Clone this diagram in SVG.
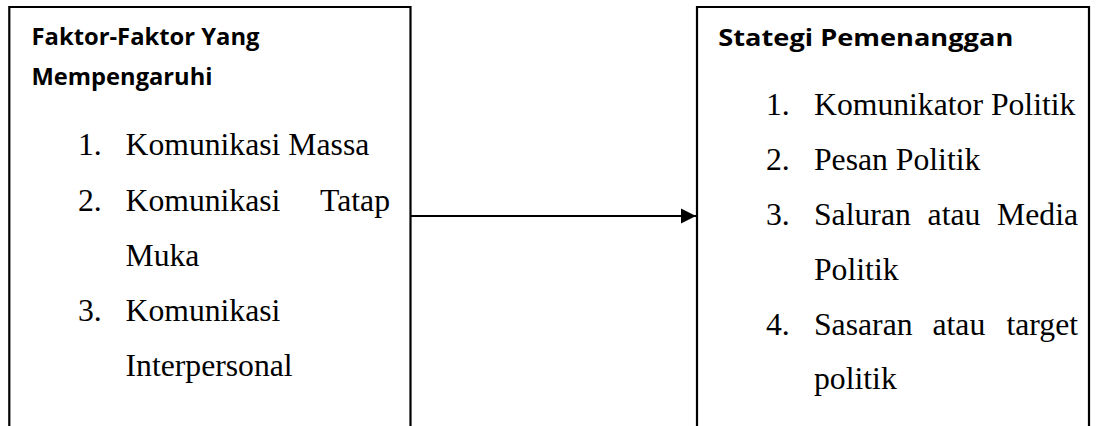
<svg xmlns="http://www.w3.org/2000/svg" width="1097" height="426" viewBox="0 0 1097 426">
<defs>
<style>
.box{fill:none;stroke:#000;stroke-width:2.2}
.h{font-family:"Open Sans","Noto Sans","Liberation Sans",sans-serif;font-weight:bold;font-size:23.5px;fill:#000}
.t{font-family:"Liberation Serif","Times New Roman",serif;font-size:31.7px;fill:#000}
.conn{stroke:#000;stroke-width:2.2;fill:none}
</style>
<marker id="arr" markerWidth="16" markerHeight="16" refX="15" refY="7.5" orient="auto" markerUnits="userSpaceOnUse" viewBox="0 0 16 15">
<path d="M0,0 L15,7.5 L0,15 Z" fill="#000"/>
</marker>
</defs>
<rect width="1097" height="426" fill="#fff"/>
<g id="node-faktor">
<path class="box" d="M9.3,440 V7 H410.5 V440"/>
<text class="h" x="31.5" y="45" textLength="228" lengthAdjust="spacingAndGlyphs">Faktor-Faktor Yang</text>
<text class="h" x="31.5" y="84.5" textLength="181" lengthAdjust="spacingAndGlyphs">Mempengaruhi</text>
<text class="t" x="78" y="155">1.</text>
<text class="t" x="125.5" y="155">Komunikasi Massa</text>
<text class="t" x="78" y="210.5">2.</text>
<text class="t" x="125.5" y="210.5">Komunikasi</text>
<text class="t" x="390" y="210.5" text-anchor="end">Tatap</text>
<text class="t" x="125.5" y="265.8">Muka</text>
<text class="t" x="78" y="321">3.</text>
<text class="t" x="125.5" y="321">Komunikasi</text>
<text class="t" x="125.5" y="376.2">Interpersonal</text>
</g>
<g id="node-strategi">
<path class="box" d="M697,440 V7 H1089 V440"/>
<text class="h" x="718.3" y="46" textLength="295" lengthAdjust="spacingAndGlyphs">Stategi Pemenanggan</text>
<text class="t" x="766" y="115">1.</text>
<text class="t" x="814" y="115">Komunikator Politik</text>
<text class="t" x="766" y="170">2.</text>
<text class="t" x="814" y="170">Pesan Politik</text>
<text class="t" x="766" y="224.5">3.</text>
<text class="t" x="814" y="224.5">Saluran</text>
<text class="t" x="927.6" y="224.5">atau</text>
<text class="t" x="1078" y="224.5" text-anchor="end">Media</text>
<text class="t" x="814" y="279.8">Politik</text>
<text class="t" x="766" y="334.5">4.</text>
<text class="t" x="814" y="334.5">Sasaran</text>
<text class="t" x="932.5" y="334.5">atau</text>
<text class="t" x="1078" y="334.5" text-anchor="end">target</text>
<text class="t" x="814" y="389">politik</text>
</g>
<g id="connectors">
<line class="conn" x1="410.5" y1="216" x2="696" y2="216" marker-end="url(#arr)"/>
</g>
</svg>
